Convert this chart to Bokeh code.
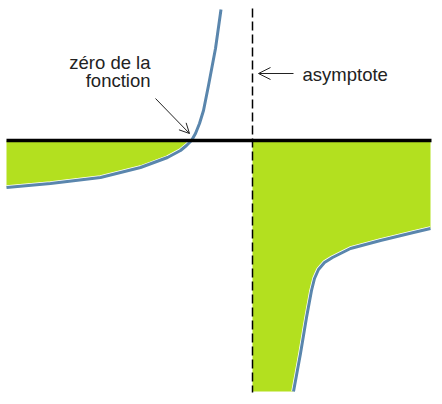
from bokeh.plotting import figure
from bokeh.models import Range1d, Arrow, OpenHead
from bokeh.core.properties import value
from bokeh.embed import file_html
from bokeh.resources import INLINE

# Left branch of the function (x relative to asymptote, y relative to x-axis)
left_x = [-246, -202, -152, -112, -85, -72, -66, -61, -57, -53, -49, -44, -37, -31.5]
left_y = [-47, -43, -37, -27, -17, -10, -5, 0, 7, 17, 30, 55, 92, 131]

# Right branch
right_x = [41, 48, 54, 59, 62, 66, 72, 80, 98, 128, 161, 178]
right_y = [-251, -213, -177, -150, -138, -129, -122, -117, -108, -100, -92, -88]

asymptote_x = 0
axis_x = [-246, 179]
asym_y = [132, -252]

labels_zero = ["zéro de la", "fonction"]
label_asym = "asymptote"

GREEN = "#b3e01f"
BLUE = "#5a86ad"

p = figure(width=434, height=396, output_backend="svg", toolbar_location=None,
           x_range=Range1d(-252, 182), y_range=Range1d(-256, 140),
           x_axis_location=None, y_axis_location=None, min_border=0)
p.outline_line_color = None
p.xgrid.visible = False
p.ygrid.visible = False

# left fill (up to zero crossing)
n0 = left_y.index(0)
lx = left_x[:n0 + 1]
ly = left_y[:n0 + 1]
p.patch(lx + [lx[-1], lx[0]], ly + [0, 0], fill_color=GREEN, line_color=None)

# right fill
rx = [asymptote_x, asymptote_x] + right_x + [right_x[-1]]
ry = [0, right_y[0]] + right_y + [0]
p.patch(rx, ry, fill_color=GREEN, line_color=None)

# curves
p.line(left_x, left_y, line_color="white", line_width=4.5, line_join="round")
p.line(left_x, left_y, line_color=BLUE, line_width=3, line_join="round")
p.line(right_x, right_y, line_color="white", line_width=4.5, line_join="round")
p.line(right_x, right_y, line_color=BLUE, line_width=3, line_join="round")

# x axis
p.line(axis_x, [0, 0], line_color="black", line_width=3.5)

# asymptote
p.line([asymptote_x, asymptote_x], asym_y, line_color="black", line_width=1.5, line_dash="9 4")

# labels
p.text(x=[-102, -102], y=[78, 60], text=labels_zero, text_align="right",
       text_baseline="alphabetic", text_font=value("Liberation Sans"),
       text_font_size="18.5px", text_color="#222222")
p.text(x=[50], y=[66], text=[label_asym], text_align="left",
       text_baseline="alphabetic", text_font=value("Liberation Sans"),
       text_font_size="18.5px", text_color="#222222")

# arrows
p.add_layout(Arrow(x_start=-97, y_start=42, x_end=-63, y_end=7,
                   line_width=1, line_color="#222222",
                   end=OpenHead(size=10, line_width=1, line_color="#222222")))
p.add_layout(Arrow(x_start=41, y_start=67, x_end=6, y_end=67,
                   line_width=1, line_color="#222222",
                   end=OpenHead(size=12, line_width=1, line_color="#222222")))

open("out.html", "w").write(file_html(p, INLINE))
